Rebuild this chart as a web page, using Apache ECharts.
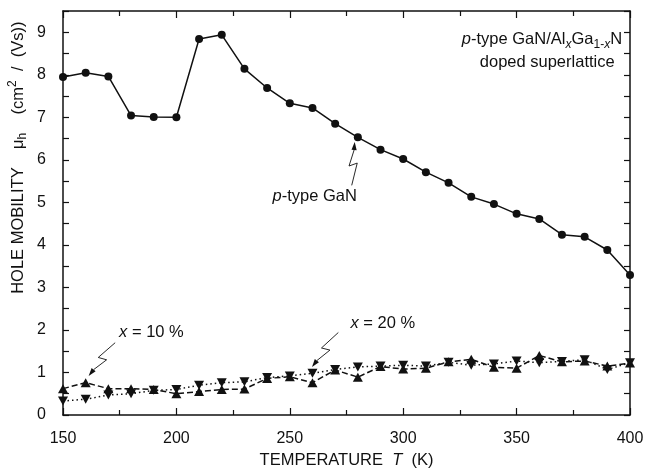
<!DOCTYPE html>
<html>
<head>
<meta charset="utf-8">
<script src="https://cdn.jsdelivr.net/npm/echarts@6/dist/echarts.min.js"></script>
<style>
  html, body { margin: 0; padding: 0; background: #fff; }
  #chart { width: 645px; height: 472px; }
</style>
</head>
<body>
<div id="chart"></div>
<script>
// Hole mobility vs temperature: bulk p-type GaN and GaN/AlGaN doped superlattices
const temperatures = [150, 160, 170, 180, 190, 200, 210, 220, 230, 240, 250, 260, 270,
                      280, 290, 300, 310, 320, 330, 340, 350, 360, 370, 380, 390, 400];
const mobilityGaN = [7.95, 8.05, 7.96, 7.04, 7.01, 7.00, 8.84, 8.94, 8.14, 7.69, 7.33, 7.22, 6.85,
                     6.53, 6.24, 6.02, 5.71, 5.46, 5.13, 4.96, 4.73, 4.61, 4.24, 4.19, 3.88, 3.29];
const mobilitySL10 = [0.62, 0.76, 0.62, 0.62, 0.60, 0.50, 0.55, 0.60, 0.61, 0.86, 0.90, 0.76, 1.06,
                      0.89, 1.14, 1.08, 1.10, 1.25, 1.31, 1.12, 1.10, 1.40, 1.25, 1.27, 1.15, 1.22];
const mobilitySL20 = [0.33, 0.37, 0.47, 0.50, 0.58, 0.60, 0.70, 0.76, 0.78, 0.88, 0.92, 0.98, 1.07,
                      1.13, 1.15, 1.17, 1.15, 1.24, 1.17, 1.20, 1.27, 1.23, 1.26, 1.30, 1.07, 1.23];
const xTicks = [150, 200, 250, 300, 350, 400];
const yTicks = [0, 1, 2, 3, 4, 5, 6, 7, 8, 9];
const yMax = 9.5;

const FONT = '"Liberation Sans", Arial, Helvetica, sans-serif';
const INK = '#111';
const FS = 16.5;

const chart = echarts.init(document.getElementById('chart'), null, { renderer: 'canvas' });
const pairs = vals => temperatures.map((t, i) => [t, vals[i]]);

const richTitle = {
  i: { fontStyle: 'italic', fontSize: FS, fontFamily: FONT, color: INK },
  s: { fontSize: 12, fontFamily: FONT, color: INK, verticalAlign: 'bottom', lineHeight: 13 },
  p: { fontSize: 12, fontFamily: FONT, color: INK, verticalAlign: 'top', lineHeight: 13 }
};

function xAxisDef(pos) {
  return {
    type: 'value', position: pos,
    min: xTicks[0], max: xTicks[xTicks.length - 1], interval: xTicks[1] - xTicks[0],
    axisLine: { show: true, onZero: false, lineStyle: { color: INK, width: 1.5 } },
    axisTick: { show: true, inside: true, length: 7, lineStyle: { color: INK, width: 1.2 } },
    minorTick: { show: true, splitNumber: 2, length: 5, lineStyle: { color: INK, width: 1.2 } },
    splitLine: { show: false },
    axisLabel: pos === 'bottom'
      ? { show: true, color: INK, fontSize: 16, fontFamily: FONT, margin: 16 }
      : { show: false }
  };
}
function yAxisDef(pos) {
  return {
    type: 'value', position: pos,
    min: yTicks[0], max: yMax, interval: 0.5,
    axisLine: { show: true, onZero: false, lineStyle: { color: INK, width: 1.5 } },
    axisTick: { show: true, inside: true, length: 6, lineStyle: { color: INK, width: 1.2 } },
    splitLine: { show: false },
    axisLabel: pos === 'left'
      ? { show: true, color: INK, fontSize: 16, fontFamily: FONT, margin: 17,
          formatter: v => (yTicks.indexOf(v) >= 0 ? String(v) : '') }
      : { show: false }
  };
}

const xBottom = Object.assign(xAxisDef('bottom'), {
  name: 'TEMPERATURE  {i|T}  (K)',
  nameLocation: 'middle', nameGap: 37,
  nameTextStyle: { color: INK, fontSize: FS, fontFamily: FONT, rich: richTitle }
});

chart.setOption({
  animation: false,
  backgroundColor: '#fff',
  grid: { left: 63, right: 15, top: 11, bottom: 57, outerBoundsMode: 'none', containLabel: false },
  xAxis: [xBottom, xAxisDef('top')],
  yAxis: [yAxisDef('left'), yAxisDef('right')],
  series: [
    {
      name: 'p-type GaN', type: 'line', data: pairs(mobilityGaN),
      symbol: 'circle', symbolSize: 8,
      lineStyle: { color: INK, width: 1.5 },
      itemStyle: { color: INK }
    },
    {
      name: 'x = 10 %', type: 'line', data: pairs(mobilitySL10),
      symbol: 'triangle', symbolSize: [10, 9],
      lineStyle: { color: INK, width: 1.5, type: [6, 3] },
      itemStyle: { color: INK }
    },
    {
      name: 'x = 20 %', type: 'line', data: pairs(mobilitySL20),
      symbol: 'triangle', symbolRotate: 180, symbolSize: [10, 9],
      lineStyle: { color: INK, width: 1.5, type: [1.5, 3] },
      itemStyle: { color: INK }
    }
  ]
});

// Annotations anchored in data coordinates
const px = (x, y) => chart.convertToPixel({ xAxisIndex: 0, yAxisIndex: 0 }, [x, y]);

function boltArrow(from, to) {
  const a = px(from[0], from[1]);
  const b = px(to[0], to[1]);
  const dx = b[0] - a[0], dy = b[1] - a[1];
  const len = Math.hypot(dx, dy);
  const ux = dx / len, uy = dy / len, nx = -uy, ny = ux;
  const at = t => [a[0] + dx * t, a[1] + dy * t];
  const p = at(0.52), q = at(0.44);
  const m1 = [p[0] + nx * 4, p[1] + ny * 4];
  const m2 = [q[0] - nx * 4, q[1] - ny * 4];
  const head = 8, hw = 2.6;
  const base = [b[0] - ux * head, b[1] - uy * head];
  return [
    { type: 'polyline', silent: true,
      shape: { points: [a, m1, m2, base] },
      style: { stroke: INK, lineWidth: 0.9, fill: null } },
    { type: 'polygon', silent: true,
      shape: { points: [b, [base[0] + nx * hw, base[1] + ny * hw], [base[0] - nx * hw, base[1] - ny * hw]] },
      style: { fill: INK } }
  ];
}

const richLabel = {
  i: { fontStyle: 'italic', fontSize: FS, fontFamily: FONT, fill: INK },
  s: { fontSize: 12, fontFamily: FONT, fill: INK, verticalAlign: 'bottom', lineHeight: 12 },
  si: { fontSize: 12, fontStyle: 'italic', fontFamily: FONT, fill: INK, verticalAlign: 'bottom', lineHeight: 12 },
  p: { fontSize: 12, fontFamily: FONT, fill: INK, verticalAlign: 'top', lineHeight: 12 }
};

function textAt(c, text, align, rotation) {
  const al = align || 'center';
  return {
    type: 'text', silent: true, x: c[0], y: c[1], rotation: rotation || 0,
    style: {
      text: text, fill: INK, fontSize: FS, fontFamily: FONT,
      align: al, verticalAlign: 'middle',
      textAlign: al, textVerticalAlign: 'middle',
      lineHeight: 22,
      rich: richLabel
    }
  };
}
const label = (x, y, text, align) => textAt(px(x, y), text, align);

// vertical axis title, placed 45 px left of the plot frame
const yTitleAnchor = px(xTicks[0], 6.05);
yTitleAnchor[0] -= 45;

chart.setOption({
  graphic: [
    textAt(yTitleAnchor, 'HOLE MOBILITY    μ{s|h}    (cm{p|2}  /  (Vs))', 'center', Math.PI / 2),
    label(396.5, 8.83, '{i|p}-type GaN/Al{si|x}Ga{s|1-}{si|x}N', 'right'),
    label(363.5, 8.28, 'doped superlattice'),
    label(261, 5.13, '{i|p}-type GaN'),
    label(189, 1.95, '{i|x} = 10 %'),
    label(291, 2.16, '{i|x} = 20 %'),
    ...boltArrow([277.3, 5.40], [278.6, 6.42]),
    ...boltArrow([173, 1.70], [161.3, 0.92]),
    ...boltArrow([271.4, 1.94], [259.8, 1.13])
  ]
});
</script>
</body>
</html>
